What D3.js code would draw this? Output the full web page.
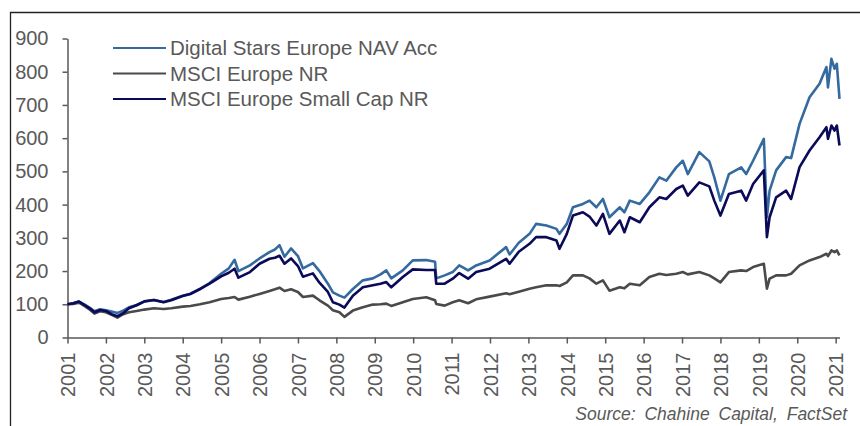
<!DOCTYPE html>
<html>
<head>
<meta charset="utf-8">
<script src="https://cdn.jsdelivr.net/npm/d3@7"></script>
<style>
  body { margin: 0; background: #fff; }
  svg { display: block; font-family: "Liberation Sans", Arial, sans-serif; }
</style>
</head>
<body>
<div class="chart"></div>
<script>
// axis time in years (as drawn on the axis)
const dates = [
  2001.00, 2001.15, 2001.30, 2001.45, 2001.60, 2001.70, 2001.85, 2002.00, 2002.15, 2002.30,
  2002.45, 2002.60, 2002.80, 2003.00, 2003.25, 2003.50, 2003.70, 2004.00, 2004.20, 2004.45,
  2004.70, 2005.00, 2005.20, 2005.35, 2005.45, 2005.75, 2006.00, 2006.26, 2006.40, 2006.52,
  2006.65, 2006.82, 2007.00, 2007.13, 2007.39, 2007.56, 2007.78, 2007.91, 2008.08, 2008.21,
  2008.43, 2008.69, 2008.95, 2009.15, 2009.30, 2009.43, 2009.73, 2009.99, 2010.34, 2010.57,
  2010.60, 2010.82, 2011.03, 2011.20, 2011.43, 2011.64, 2011.99, 2012.42, 2012.51, 2012.75,
  2013.03, 2013.20, 2013.47, 2013.73, 2013.81, 2014.00, 2014.16, 2014.42, 2014.59, 2014.77,
  2014.94, 2015.11, 2015.38, 2015.50, 2015.64, 2015.90, 2016.15, 2016.41, 2016.59, 2016.85,
  2017.02, 2017.15, 2017.45, 2017.71, 2017.84, 2018.00, 2018.22, 2018.54, 2018.67, 2018.85,
  2019.13, 2019.21, 2019.28, 2019.45, 2019.71, 2019.84, 2020.06, 2020.32, 2020.58, 2020.76,
  2020.80, 2020.89, 2020.97, 2021.03, 2021.10
];

const digitalStars = [
  100, 103, 108, 99, 88, 79, 85, 82, 78, 74,
  81, 91, 98, 108, 113, 107, 114, 126, 132, 146,
  164, 192, 208, 234, 200, 217, 238, 257, 265, 278,
  243, 268, 245, 208, 224, 200, 162, 136, 126, 120,
  146, 172, 178, 190, 202, 178, 202, 232, 233, 228,
  178, 187, 197, 217, 202, 217, 232, 272, 250, 285,
  312, 342, 337, 327, 312, 342, 392, 402, 412, 392,
  417, 362, 392, 377, 412, 402, 437, 482, 472, 512,
  532, 492, 558, 530, 482, 412, 492, 512, 492, 532,
  598, 362, 442, 503, 543, 540, 643, 723, 764, 814,
  753, 839, 809, 824, 718
];

const msciEurope = [
  100, 101, 105, 94, 82, 72, 79, 76, 68, 60,
  70, 76, 80, 84, 88, 86, 88, 93, 95, 100,
  106, 116, 119, 122, 114, 123, 131, 140, 145, 150,
  140, 145, 137, 122, 126, 112, 96, 82, 76, 62,
  81, 91, 99, 100, 102, 95, 106, 116, 121, 112,
  101, 96, 106, 112, 103, 115, 123, 133, 130, 138,
  147, 151, 157, 157, 155, 166, 187, 187, 178, 162,
  172, 141, 151, 148, 162, 157, 182, 192, 188, 192,
  197, 190, 197, 187, 178, 166, 197, 202, 200, 212,
  222, 147, 177, 187, 187, 192, 217, 232, 242, 252,
  245, 262, 257, 262, 247
];

const msciSmallCap = [
  100, 103, 108, 97, 86, 76, 83, 80, 70, 64,
  73, 88, 97, 109, 113, 106, 112, 125, 131, 146,
  162, 184, 195, 207, 180, 197, 222, 237, 240, 246,
  222, 238, 215, 183, 193, 165, 137, 106, 99, 90,
  126, 151, 157, 162, 167, 151, 182, 205, 203, 203,
  162, 162, 177, 194, 177, 197, 207, 237, 222, 258,
  282, 302, 302, 292, 267, 312, 367, 377, 364, 337,
  372, 312, 352, 317, 362, 347, 392, 422, 417, 447,
  457, 427, 467, 455, 412, 367, 432, 442, 412, 462,
  503, 302, 362, 422, 442, 417, 513, 563, 603, 633,
  598, 638, 623, 638, 578
];

const seriesNames = ["Digital Stars Europe NAV Acc", "MSCI Europe NR", "MSCI Europe Small Cap NR"];
const seriesColors = ["#346a9f", "#4a4a4a", "#0a0a58"];
const yTicks = [0, 100, 200, 300, 400, 500, 600, 700, 800, 900];
const years = d3.range(2001, 2022);

const W = 860, H = 426;
const textColor = "#595959";

const svg = d3.select(".chart")
  .append("svg")
  .attr("width", W)
  .attr("height", H);

// frame (top and left edges)
svg.append("path")
  .attr("d", `M10.5,${H} L10.5,12.5 L${W},12.5`)
  .attr("fill", "none")
  .attr("stroke", "#222")
  .attr("stroke-width", 1.3);

const x = d3.scaleLinear()
  .domain([2001, 2021.1])
  .range([67.5, 839.5]);

const y = d3.scaleLinear()
  .domain([0, 900])
  .range([337.5, 38.5]);

// y axis
const yAxis = svg.append("g")
  .attr("transform", "translate(67.5,0)")
  .call(d3.axisLeft(y).tickValues(yTicks).tickSize(5).tickSizeOuter(0).tickPadding(14));
yAxis.selectAll("text")
  .attr("font-size", 20)
  .attr("font-family", "Liberation Sans, Arial, sans-serif")
  .attr("fill", textColor);

// x axis
const xAxis = svg.append("g")
  .attr("transform", "translate(0,337.5)")
  .call(d3.axisBottom(x).tickValues(years).tickSize(6).tickSizeOuter(0).tickFormat(d3.format("d")));
xAxis.selectAll("text")
  .attr("font-size", 20)
  .attr("font-family", "Liberation Sans, Arial, sans-serif")
  .attr("fill", textColor)
  .attr("text-anchor", "end")
  .attr("transform", "rotate(-90)")
  .attr("x", -15)
  .attr("y", 0)
  .attr("dy", "0.36em");

svg.selectAll(".domain, .tick line")
  .attr("stroke", textColor)
  .attr("stroke-width", 1.5);

// lines
const line = d3.line()
  .x((d, i) => x(dates[i]))
  .y(d => y(d));

const allSeries = [digitalStars, msciEurope, msciSmallCap];
allSeries.forEach((values, k) => {
  svg.append("path")
    .datum(values)
    .attr("fill", "none")
    .attr("stroke", seriesColors[k])
    .attr("stroke-width", 2.6)
    .attr("stroke-linejoin", "round")
    .attr("d", line);
});

// legend
const legend = svg.append("g");
seriesNames.forEach((name, i) => {
  const ly = 48 + i * 25.5;
  legend.append("line")
    .attr("x1", 113).attr("x2", 166)
    .attr("y1", ly).attr("y2", ly)
    .attr("stroke", seriesColors[i])
    .attr("stroke-width", 2);
  legend.append("text")
    .attr("x", 170)
    .attr("y", ly)
    .attr("dy", "0.36em")
    .attr("font-size", 20.5)
    .attr("fill", textColor)
    .text(name);
});

// source
svg.append("text")
  .attr("x", 847)
  .attr("y", 420)
  .attr("text-anchor", "end")
  .attr("font-size", 17.5)
  .attr("font-style", "italic")
  .attr("word-spacing", 4)
  .attr("fill", textColor)
  .text("Source: Chahine Capital, FactSet");
</script>
</body>
</html>
